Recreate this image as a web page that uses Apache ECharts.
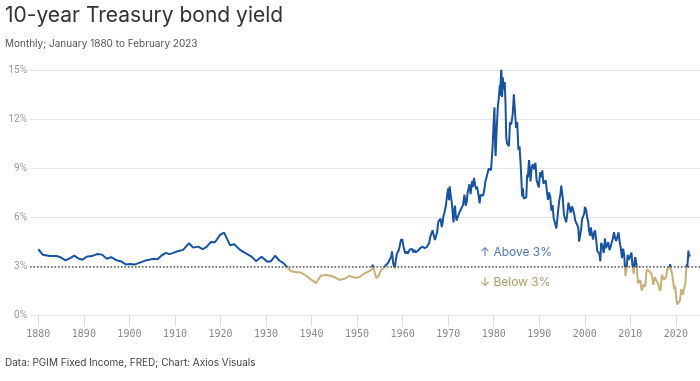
<!DOCTYPE html>
<html>
<head>
<meta charset="utf-8">
<script src="https://cdn.jsdelivr.net/npm/echarts@6/dist/echarts.min.js"></script>
<style>
html,body{margin:0;padding:0;background:#fff;}
#chart{width:700px;height:381px;}
</style>
</head>
<body>
<div id="chart"></div>
<script>
// Early (smooth) series, decimal years
const earlyYears = [1880.0,1881.0,1882.5,1884.0,1885.0,1886.0,1887.0,1887.9,1888.8,1889.7,1890.6,1891.7,1893.0,1894.0,1895.0,1896.0,1897.2,1898.1,1899.2,1900.1,1901.1,1902.3,1903.8,1905.2,1906.2,1907.1,1908.0,1908.8,1909.5,1910.4,1911.8,1913.1,1914.0,1915.1,1916.1,1917.0,1917.9,1918.8,1919.9,1920.8,1922.1,1923.0,1924.3,1925.5,1926.9,1927.8,1929.0,1930.3,1931.1,1932.0,1932.9,1933.9,1934.5,1935.4,1936.7,1937.5,1938.9,1940.0,1941.0,1942.0,1943.3,1944.4,1946.2,1947.3,1948.3,1949.5,1950.4,1951.7,1952.8];
const earlyYields = [4.06,3.72,3.65,3.65,3.55,3.38,3.51,3.67,3.49,3.42,3.60,3.64,3.77,3.73,3.48,3.57,3.38,3.33,3.13,3.16,3.12,3.24,3.39,3.47,3.45,3.69,3.84,3.76,3.82,3.92,4.02,4.43,4.16,4.22,4.06,4.22,4.51,4.49,4.94,5.08,4.31,4.37,4.02,3.82,3.59,3.33,3.60,3.30,3.33,3.66,3.37,3.20,3.00,2.73,2.65,2.65,2.42,2.18,1.98,2.44,2.48,2.42,2.18,2.26,2.42,2.32,2.34,2.59,2.73];

// Modern series, year-month
const modernMonths = ['1953-04','1953-06','1953-09','1953-12','1954-04','1954-07','1954-10','1955-01','1955-04','1955-07','1955-10','1956-01','1956-04','1956-07','1956-10','1957-01','1957-04','1957-07','1957-09','1957-12','1958-02','1958-04','1958-06','1958-08','1958-10','1958-12','1959-02','1959-04','1959-06','1959-09','1959-10','1959-12','1960-01','1960-03','1960-05','1960-08','1960-11','1961-02','1961-05','1961-08','1961-11','1962-02','1962-05','1962-08','1962-11','1963-02','1963-05','1963-08','1963-11','1964-02','1964-05','1964-08','1964-11','1965-02','1965-05','1965-08','1965-11','1966-02','1966-05','1966-08','1966-10','1966-12','1967-02','1967-04','1967-07','1967-09','1967-11','1968-03','1968-05','1968-08','1968-11','1968-12','1969-03','1969-05','1969-07','1969-09','1969-12','1970-01','1970-03','1970-05','1970-07','1970-09','1970-11','1971-01','1971-03','1971-05','1971-07','1971-09','1971-11','1972-01','1972-04','1972-07','1972-10','1973-01','1973-04','1973-08','1973-11','1974-02','1974-04','1974-07','1974-09','1974-12','1975-02','1975-04','1975-06','1975-09','1975-12','1976-03','1976-05','1976-08','1976-10','1976-12','1977-02','1977-06','1977-09','1977-12','1978-03','1978-06','1978-09','1978-12','1979-03','1979-06','1979-08','1979-10','1979-12','1980-02','1980-03','1980-05','1980-06','1980-09','1980-12','1981-02','1981-05','1981-06','1981-09','1981-11','1981-12','1982-01','1982-03','1982-06','1982-08','1982-10','1982-12','1983-03','1983-05','1983-08','1983-11','1984-03','1984-06','1984-09','1984-12','1985-03','1985-06','1985-09','1985-12','1986-03','1986-04','1986-06','1986-08','1986-12','1987-03','1987-05','1987-07','1987-10','1987-12','1988-02','1988-05','1988-08','1988-11','1989-03','1989-06','1989-09','1989-12','1990-02','1990-04','1990-07','1990-09','1990-12','1991-03','1991-06','1991-09','1991-12','1992-03','1992-06','1992-09','1992-12','1993-03','1993-06','1993-10','1993-12','1994-03','1994-06','1994-09','1994-11','1995-03','1995-06','1995-09','1995-12','1996-01','1996-03','1996-06','1996-09','1996-12','1997-03','1997-06','1997-09','1997-12','1998-03','1998-06','1998-08','1998-10','1998-12','1999-03','1999-06','1999-09','1999-12','2000-01','2000-05','2000-07','2000-10','2000-12','2001-03','2001-05','2001-08','2001-11','2002-01','2002-04','2002-07','2002-10','2003-01','2003-03','2003-06','2003-08','2003-11','2004-03','2004-06','2004-09','2004-12','2005-03','2005-06','2005-09','2005-12','2006-03','2006-06','2006-09','2006-12','2007-03','2007-06','2007-09','2007-12','2008-03','2008-06','2008-09','2008-12','2009-03','2009-06','2009-09','2009-12','2010-04','2010-06','2010-10','2010-12','2011-02','2011-06','2011-09','2011-12','2012-03','2012-07','2012-10','2013-01','2013-04','2013-07','2013-09','2013-12','2014-03','2014-06','2014-09','2014-12','2015-01','2015-06','2015-09','2015-12','2016-03','2016-07','2016-09','2016-12','2017-03','2017-06','2017-09','2017-12','2018-02','2018-05','2018-08','2018-10','2018-12','2019-03','2019-06','2019-08','2019-11','2020-01','2020-03','2020-05','2020-07','2020-10','2020-12','2021-03','2021-06','2021-08','2021-10','2021-12','2022-02','2022-04','2022-06','2022-07','2022-09','2022-10','2022-12','2023-01','2023-02'];
const modernYields = [2.83,3.11,2.87,2.59,2.29,2.30,2.43,2.61,2.78,2.90,2.88,2.90,3.07,3.11,3.20,3.34,3.38,3.60,3.93,3.21,3.05,2.88,2.97,3.54,3.80,3.86,3.96,4.12,4.34,4.68,4.53,4.69,4.72,4.25,4.35,3.80,3.93,3.79,3.71,4.04,3.94,4.08,3.87,4.02,3.87,3.92,3.97,4.02,4.12,4.15,4.22,4.19,4.12,4.19,4.21,4.25,4.45,4.83,4.78,5.22,5.01,4.84,4.63,4.55,5.01,5.30,5.75,5.76,5.93,5.42,5.77,6.03,6.30,6.32,6.72,7.16,7.65,7.79,7.07,7.91,7.46,7.39,6.84,6.24,5.70,6.39,6.73,6.14,5.81,5.95,6.17,6.11,6.48,6.46,6.76,7.40,6.73,6.96,7.51,7.81,8.04,7.43,7.39,8.23,7.86,8.43,8.00,7.73,7.90,7.52,7.41,6.87,7.39,7.28,7.34,7.69,8.21,8.46,8.42,9.01,9.12,8.91,9.03,10.30,10.39,12.41,12.75,10.18,9.78,11.51,12.84,13.19,14.10,13.47,15.32,13.39,13.72,14.59,13.86,14.30,13.06,10.91,10.54,10.51,10.38,11.85,11.69,12.32,13.56,12.52,11.50,11.86,10.16,10.37,9.26,7.78,7.30,7.80,7.17,7.11,7.25,8.63,8.45,9.52,8.99,8.21,9.09,9.26,8.96,9.36,8.28,8.19,7.84,8.47,8.79,8.47,8.89,8.08,8.11,8.28,7.65,7.09,7.54,7.26,6.42,6.77,5.98,5.96,5.33,5.77,6.48,7.10,7.46,7.96,7.20,6.17,6.20,5.71,5.65,6.27,6.91,6.83,6.30,6.69,6.49,6.21,5.81,5.65,5.50,5.34,4.53,4.65,5.23,5.90,5.92,6.28,6.66,6.44,6.05,5.74,5.24,4.89,5.39,4.97,4.65,5.04,5.21,4.65,3.94,4.05,3.81,3.33,4.45,4.30,3.83,4.73,4.13,4.23,4.50,4.00,4.20,4.47,4.72,5.11,4.72,4.56,4.56,5.10,4.52,4.10,3.51,4.10,3.69,2.42,2.82,3.72,3.40,3.59,3.85,3.20,2.54,3.29,3.58,3.00,1.98,1.98,2.17,1.53,1.75,1.91,1.76,2.58,2.81,2.90,2.72,2.60,2.53,2.21,1.88,2.36,2.17,2.24,1.89,1.50,1.63,2.49,2.48,2.19,2.20,2.40,2.86,2.98,2.89,3.15,2.83,2.57,2.07,1.63,1.81,1.76,0.87,0.67,0.62,0.79,0.93,1.61,1.52,1.28,1.58,1.47,1.93,2.75,3.14,2.90,3.52,3.98,3.62,3.53,3.75];

const xTickYears = [1880,1890,1900,1910,1920,1930,1940,1950,1960,1970,1980,1990,2000,2010,2020];
const threshold = 3;

const seriesData = [];
earlyYears.forEach((y, i) => seriesData.push([y, earlyYields[i]]));
modernMonths.forEach((m, i) => {
  const [yy, mm] = m.split('-').map(Number);
  seriesData.push([yy + (mm - 1) / 12, modernYields[i]]);
});

const BLUE = '#1753a3';
const TAN = '#c6b075';

const chart = echarts.init(document.getElementById('chart'), null, {renderer: 'canvas'});
chart.setOption({
  animation: false,
  backgroundColor: '#fff',
  grid: {left: 30, right: 0, top: 70.7, bottom: 65.5, containLabel: false},
  xAxis: {
    type: 'value',
    min: 1878.17,
    max: 2025.3,
    axisLine: {show: false},
    splitLine: {show: false},
    axisTick: {show: true, length: 11, lineStyle: {color: '#dcdcdc', width: 1}, customValues: xTickYears},
    axisLabel: {
      customValues: xTickYears,
      margin: 14,
      color: '#8a8a8a',
      fontSize: 10,
      fontFamily: 'DejaVu Sans Mono',
      formatter: v => String(Math.round(v))
    }
  },
  yAxis: {
    type: 'value',
    min: 0,
    max: 15,
    interval: 3,
    axisLine: {show: false},
    axisTick: {show: false},
    splitLine: {lineStyle: {color: '#e6e6e6', width: 1}},
    axisLabel: {
      margin: 3,
      color: '#9a9a9a',
      fontSize: 10,
      fontFamily: 'Roboto',
      formatter: v => v + '%'
    }
  },
  series: [{
    type: 'line',
    data: seriesData,
    showSymbol: false,
    symbol: 'none',
    lineStyle: {width: 2, color: BLUE},
    markLine: {
      silent: true,
      symbol: 'none',
      label: {show: false},
      lineStyle: {color: '#555', type: [1.5, 2], width: 1.5},
      data: [{yAxis: threshold}]
    }
  }],
  graphic: [
    {type: 'text', left: 5, top: 5, style: {text: '10-year Treasury bond yield', fontSize: 21, fontFamily: 'Inter', fill: '#333'}},
    {type: 'text', left: 5, top: 39, style: {text: 'Monthly; January 1880 to February 2023', fontSize: 10, fontFamily: 'Inter', fill: '#555'}},
    {type: 'text', left: 5, top: 358, style: {text: 'Data: PGIM Fixed Income, FRED; Chart: Axios Visuals', fontSize: 10, fontFamily: 'Inter', fill: '#444'}},
    {type: 'text', left: 480, top: 246, style: {text: '\u2191 Above 3%', fontSize: 12, fontFamily: 'Inter', fill: '#4a78b8'}},
    {type: 'text', left: 480, top: 276, style: {text: '\u2193 Below 3%', fontSize: 12, fontFamily: 'Inter', fill: '#b39b60'}}
  ]
});

// Colour the line by value: blue above the threshold, tan below (global gradient split at the 3% pixel row)
const h = chart.getHeight();
const py = chart.convertToPixel({yAxisIndex: 0}, threshold);
const f = py / h;
chart.setOption({
  series: [{
    lineStyle: {
      color: new echarts.graphic.LinearGradient(0, 0, 0, h, [
        {offset: 0, color: BLUE},
        {offset: f, color: BLUE},
        {offset: f, color: TAN},
        {offset: 1, color: TAN}
      ], true)
    }
  }]
});
</script>
</body>
</html>
